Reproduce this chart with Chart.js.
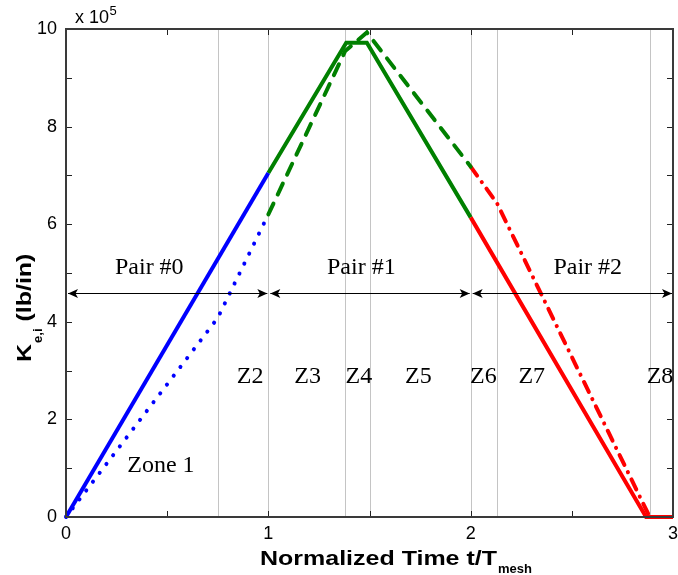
<!DOCTYPE html>
<html>
<head>
<meta charset="utf-8">
<script src="https://cdn.jsdelivr.net/npm/chart.js@4.4.1/dist/chart.umd.min.js"></script>
<style>
  body { margin: 0; background: #fff; }
  canvas { display: block; }
</style>
</head>
<body>
<canvas id="myChart" width="678" height="575"></canvas>
<script>
// stiffness in units of 1e5 lb/in, time in t/Tmesh
var blueSolidX = [0, 1];
var blueSolidY = [0, 7.05];
var blueDotX = [0, 0.75, 1];
var blueDotY = [0, 4.08, 6.2];
var greenSolidX = [1, 1.385, 1.487, 2];
var greenSolidY = [7.05, 9.72, 9.72, 6.14];
var greenDashX = [1, 1.38, 1.487, 2];
var greenDashY = [6.2, 9.55, 9.93, 7.18];
var redSolidX = [2, 2.867, 3];
var redSolidY = [6.14, 0, 0];
var redDashDotX = [2, 2.13, 2.885];
var redDashDotY = [7.18, 6.43, 0];

// zone boundaries (gray vertical lines)
var zoneBounds = [0.75, 1, 1.38, 1.5, 2, 2.13, 2.885];
// pairs of teeth in contact
var pairBounds = [0, 1, 2, 3];
var pairLabels = ['Pair #0', 'Pair #1', 'Pair #2'];
var pairLabelX = [0.242, 1.29, 2.409];
var pairLabelY = 4.97;
var arrowY = 4.58;
var zoneLabels = ['Z2', 'Z3', 'Z4', 'Z5', 'Z6', 'Z7', 'Z8'];
var zoneLabelX = [0.844, 1.128, 1.382, 1.676, 1.997, 2.236, 2.87];
var zoneLabelY = 2.74;
var zone1Label = 'Zone 1';
var zone1X = 0.303, zone1Y = 0.93;

function pts(xs, ys) {
	return xs.map(function(x, i){ return { x: x, y: ys[i] }; });
}

function line(xs, ys, color, dash) {
	return {
		data: pts(xs, ys),
		showLine: true,
		borderColor: color,
		backgroundColor: color,
		borderWidth: 4,
		borderDash: dash || [],
		borderCapStyle: dash ? 'round' : 'butt',
		pointRadius: 0,
		tension: 0,
		clip: false
	};
}

var decor = {
	id: 'decor',
	beforeDatasetsDraw: function(chart) {
		var ctx = chart.ctx, a = chart.chartArea;
		var xs = chart.scales.x, ys = chart.scales.y;
		ctx.save();
		ctx.strokeStyle = '#c4c4c4';
		ctx.lineWidth = 1;
		zoneBounds.forEach(function(v){
			var px = Math.round(xs.getPixelForValue(v)) + 0.5;
			ctx.beginPath(); ctx.moveTo(px, a.top); ctx.lineTo(px, a.bottom); ctx.stroke();
		});
		// inner tick marks on all four sides
		ctx.strokeStyle = '#222';
		xs.ticks.forEach(function(t){
			var px = Math.round(xs.getPixelForValue(t.value)) + 0.5;
			ctx.beginPath();
			ctx.moveTo(px, a.bottom); ctx.lineTo(px, a.bottom - 6);
			ctx.moveTo(px, a.top); ctx.lineTo(px, a.top + 6);
			ctx.stroke();
		});
		ys.ticks.forEach(function(t){
			var py = Math.round(ys.getPixelForValue(t.value)) + 0.5;
			ctx.beginPath();
			ctx.moveTo(a.left, py); ctx.lineTo(a.left + 6, py);
			ctx.moveTo(a.right, py); ctx.lineTo(a.right - 6, py);
			ctx.stroke();
		});
		ctx.restore();
	},
	afterDatasetsDraw: function(chart) {
		var ctx = chart.ctx, a = chart.chartArea;
		var xs = chart.scales.x, ys = chart.scales.y;
		ctx.save();
		// box
		ctx.strokeStyle = '#3a3a3a';
		ctx.lineWidth = 2;
		ctx.strokeRect(a.left, a.top, a.right - a.left, a.bottom - a.top);

		// double arrows for each pair
		var ay = Math.round(ys.getPixelForValue(arrowY)) + 0.5;
		ctx.strokeStyle = '#000';
		ctx.fillStyle = '#000';
		ctx.lineWidth = 1;
		for (var i = 0; i < pairBounds.length - 1; i++) {
			var x0 = xs.getPixelForValue(pairBounds[i]) + 2;
			var x1 = xs.getPixelForValue(pairBounds[i + 1]) - 1;
			ctx.beginPath(); ctx.moveTo(x0, ay); ctx.lineTo(x1, ay); ctx.stroke();
			ctx.beginPath();
			ctx.moveTo(x0, ay); ctx.lineTo(x0 + 10, ay - 4.5); ctx.lineTo(x0 + 7.5, ay); ctx.lineTo(x0 + 10, ay + 4.5);
			ctx.closePath(); ctx.fill();
			ctx.beginPath();
			ctx.moveTo(x1, ay); ctx.lineTo(x1 - 10, ay - 4.5); ctx.lineTo(x1 - 7.5, ay); ctx.lineTo(x1 - 10, ay + 4.5);
			ctx.closePath(); ctx.fill();
		}

		// serif annotations
		ctx.font = '24px "Liberation Serif"';
		ctx.textAlign = 'left';
		ctx.textBaseline = 'alphabetic';
		pairLabels.forEach(function(s, i){
			ctx.fillText(s, xs.getPixelForValue(pairLabelX[i]), ys.getPixelForValue(pairLabelY));
		});
		zoneLabels.forEach(function(s, i){
			ctx.fillText(s, xs.getPixelForValue(zoneLabelX[i]), ys.getPixelForValue(zoneLabelY));
		});
		ctx.fillText(zone1Label, xs.getPixelForValue(zone1X), ys.getPixelForValue(zone1Y));

		// exponent label
		ctx.font = '18px "Liberation Sans"';
		ctx.fillText('x 10', 75, 23);
		var w = ctx.measureText('x 10').width;
		ctx.font = '13px "Liberation Sans"';
		ctx.fillText('5', 75 + w + 0.5, 15);

		// x title
		var sx = 1.19;
		ctx.save();
		ctx.translate(260, 565);
		ctx.scale(sx, 1);
		ctx.font = 'bold 21px "Liberation Sans"';
		ctx.fillText('Normalized Time t/T', 0, 0);
		var tw = ctx.measureText('Normalized Time t/T').width;
		ctx.restore();
		ctx.font = 'bold 13px "Liberation Sans"';
		ctx.fillText('mesh', 260 + tw * sx + 1, 573);

		// y title
		ctx.save();
		ctx.translate(31, 362);
		ctx.rotate(-Math.PI / 2);
		ctx.save();
		ctx.scale(sx, 1);
		ctx.font = 'bold 21px "Liberation Sans"';
		ctx.fillText('K', 0, 0);
		var kw = ctx.measureText('K').width * sx;
		ctx.restore();
		ctx.font = 'bold 13px "Liberation Sans"';
		ctx.fillText('e,i', kw + 1, 11);
		var ew = ctx.measureText('e,i').width;
		ctx.translate(kw + ew + 1, 0);
		ctx.scale(sx, 1);
		ctx.font = 'bold 21px "Liberation Sans"';
		ctx.fillText(' (lb/in)', 0, 0);
		ctx.restore();

		ctx.restore();
	}
};

var ctx = document.getElementById('myChart').getContext('2d');
var myChart = new Chart(ctx, {
	type: 'scatter',
	data: {
		datasets: [
			line(blueSolidX, blueSolidY, '#0000ff'),
			line(blueDotX, blueDotY, '#0000ff', [0.1, 11]),
			line(greenSolidX, greenSolidY, '#008000'),
			line(greenDashX, greenDashY, '#008000', [12, 10]),
			line(redSolidX, redSolidY, '#ff0000'),
			line(redDashDotX, redDashDotY, '#ff0000', [11, 8, 0.1, 8])
		]
	},
	options: {
		responsive: false,
		animation: false,
		devicePixelRatio: 1,
		layout: { padding: { top: 29, right: 5, left: 0, bottom: 0 } },
		plugins: { legend: { display: false }, tooltip: { enabled: false } },
		scales: {
			x: {
				type: 'linear', min: 0, max: 3,
				grid: { display: false, drawTicks: false },
				border: { display: false },
				ticks: {
					stepSize: 0.5, padding: 6, color: '#000', maxRotation: 0, autoSkip: false,
					font: { family: 'Liberation Sans', size: 18 },
					callback: function(v){ return Number.isInteger(v) ? String(v) : ''; }
				},
				afterFit: function(s){ s.height = 58; s.paddingLeft = 0; s.paddingRight = 0; }
			},
			y: {
				type: 'linear', min: 0, max: 10,
				grid: { display: false, drawTicks: false },
				border: { display: false },
				ticks: {
					stepSize: 1, padding: 9, color: '#000', autoSkip: false,
					font: { family: 'Liberation Sans', size: 18 },
					callback: function(v){ return v % 2 === 0 ? String(v) : ''; }
				},
				afterFit: function(s){ s.width = 66; s.paddingTop = 0; s.paddingBottom = 0; }
			}
		}
	},
	plugins: [decor]
});
</script>
</body>
</html>
